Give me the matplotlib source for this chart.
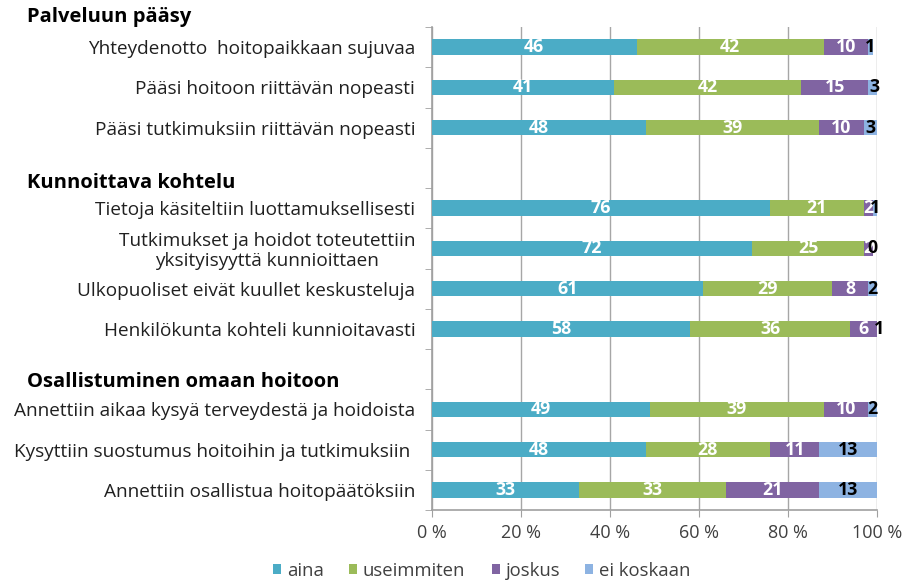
import matplotlib
matplotlib.use("Agg")
import matplotlib.pyplot as plt
import numpy as np

plt.rcParams['font.family'] = ['Open Sans', 'DejaVu Sans']

categories = [
    "Yhteydenotto  hoitopaikkaan sujuvaa",
    "Pääsi hoitoon riittävän nopeasti",
    "Pääsi tutkimuksiin riittävän nopeasti",
    "",
    "Tietoja käsiteltiin luottamuksellisesti",
    "Tutkimukset ja hoidot toteutettiin\nyksityisyyttä kunnioittaen",
    "Ulkopuoliset eivät kuullet keskusteluja",
    "Henkilökunta kohteli kunnioitavasti",
    "",
    "Annettiin aikaa kysyä terveydestä ja hoidoista",
    "Kysyttiin suostumus hoitoihin ja tutkimuksiin ",
    "Annettiin osallistua hoitopäätöksiin",
]
aina       = [46, 41, 48, None, 76, 72, 61, 58, None, 49, 48, 33]
useimmiten = [42, 42, 39, None, 21, 25, 29, 36, None, 39, 28, 33]
joskus     = [10, 15, 10, None, 2, 2, 8, 6, None, 10, 11, 21]
ei_koskaan = [1, 3, 3, None, 1, 0, 2, 1, None, 2, 13, 13]

series_names = ["aina", "useimmiten", "joskus", "ei koskaan"]
colors = ["#4BACC6", "#9BBB59", "#8064A2", "#8DB3E2"]
label_colors = ["white", "white", "white", "black"]

headers = ["Palveluun pääsy", "Kunnoittava kohtelu", "Osallistuminen omaan hoitoon"]
header_pos = [-0.75, 3.37, 8.33]

fig = plt.figure(figsize=(9.14, 5.82), dpi=100)
ax = fig.add_axes([0.4726, 0.1237, 0.9595 - 0.4726, 0.9536 - 0.1237])

y = np.arange(len(categories))
series = [aina, useimmiten, joskus, ei_koskaan]
left = np.zeros(len(categories))
handles = []
for name, vals, col, lc in zip(series_names, series, colors, label_colors):
    v = np.array([np.nan if x is None else x for x in vals], dtype=float)
    vv = np.nan_to_num(v)
    bars = ax.barh(y, vv, left=left, height=0.38, color=col, label=name, zorder=3)
    handles.append(bars)
    for i in range(len(categories)):
        if not np.isnan(v[i]):
            ax.text(left[i] + vv[i] / 2, y[i], f"{int(v[i])}", ha='center', va='center',
                    color=lc, fontsize=12.8, fontweight='bold', zorder=4)
    left = left + vv

ax.set_xlim(0, 100)
ax.set_ylim(len(categories) - 0.5, -0.5)
ax.set_xticks(np.arange(0, 101, 20))
ax.set_xticklabels([f"{t} %" for t in range(0, 101, 20)], fontsize=13, color='#404040')
ax.set_yticks(y)
ax.set_yticklabels(categories, fontsize=13.7, color='#202020', ha='right')
ax.set_yticks(np.arange(-0.5, len(categories) + 0.5, 1), minor=True)
ax.tick_params(axis='y', which='major', length=0, pad=12)
ax.tick_params(axis='y', which='minor', length=5, color='#A0A0A0', direction='out')
ax.tick_params(axis='x', length=5, color='#A0A0A0', direction='out', pad=5)
for lab in ax.get_yticklabels():
    lab.set_multialignment('center')
    lab.set_linespacing(1.15)

ax.grid(axis='x', color='#A6A6A6', linewidth=1, zorder=0)
for s in ['top', 'right']:
    ax.spines[s].set_visible(False)
for s in ['left', 'bottom']:
    ax.spines[s].set_color('#A0A0A0')
    ax.spines[s].set_linewidth(1.2)

trans = matplotlib.transforms.blended_transform_factory(fig.transFigure, ax.transData)
for h, p in zip(headers, header_pos):
    fig.text(27 / 914, p, h, fontsize=14.5, fontweight='bold', color='black',
             ha='left', va='center', transform=trans)

legend_x = [273, 349, 492, 585]
for hnd, name, lx in zip(handles, series_names, legend_x):
    leg = fig.legend([hnd], [name], loc='center left', bbox_to_anchor=(lx / 914, 0.019),
                     frameon=False, fontsize=13.3, handlelength=0.45, handleheight=0.45,
                     handletextpad=0.3, borderpad=0, borderaxespad=0)
    for t in leg.get_texts():
        t.set_color('#404040')

fig.savefig("out.png", dpi=100)
